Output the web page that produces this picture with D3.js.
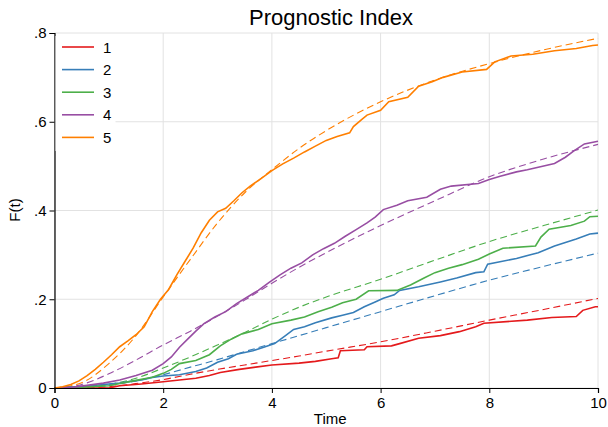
<!DOCTYPE html>
<html><head><meta charset="utf-8">
<script src="https://cdn.jsdelivr.net/npm/d3@7"></script>
<style>
html,body{margin:0;padding:0;background:#fff;}
text{font-family:"Liberation Sans",Arial,sans-serif;fill:#000;}
</style></head>
<body><svg id="c" width="608" height="427"></svg>
<script>
const groups = ["1","2","3","4","5"];
const colors = ["#e41a1c","#377eb8","#4daf4a","#984ea3","#ff7f00"];
const xTicks = [0,2,4,6,8,10];
const yTicks = [0,0.2,0.4,0.6,0.8];
const yTickLabels = ["0",".2",".4",".6",".8"];

// Kaplan-Meier curves [time, F(t)]
const km1 = [[0,0],[1.0,0],[1.2,0.005],[1.6,0.009],[2.0,0.014],[2.3,0.018],[2.6,0.022],[2.85,0.028],[3.05,0.035],[3.4,0.042],[3.7,0.047],[4.0,0.052],[4.5,0.056],[4.8,0.060],[5.1,0.066],[5.22,0.068],[5.26,0.084],[5.7,0.086],[5.75,0.093],[6.2,0.095],[6.35,0.100],[6.7,0.112],[7.1,0.118],[7.45,0.127],[7.75,0.138],[7.9,0.146],[8.7,0.153],[9.15,0.159],[9.6,0.161],[9.72,0.175],[9.95,0.183],[10,0.183]];
const km2 = [[0,0],[0.3,0.002],[0.6,0.004],[0.9,0.008],[1.2,0.011],[1.4,0.015],[1.6,0.018],[1.8,0.024],[2.0,0.027],[2.3,0.030],[2.6,0.037],[2.8,0.045],[3.0,0.058],[3.2,0.066],[3.35,0.076],[3.65,0.084],[3.85,0.092],[4.05,0.100],[4.25,0.118],[4.4,0.132],[4.6,0.138],[4.8,0.147],[5.1,0.158],[5.3,0.164],[5.5,0.170],[5.7,0.183],[5.9,0.194],[6.05,0.202],[6.25,0.210],[6.35,0.220],[6.7,0.228],[7.1,0.239],[7.4,0.248],[7.75,0.260],[7.9,0.262],[7.97,0.279],[8.5,0.292],[8.9,0.305],[9.2,0.320],[9.6,0.336],[9.85,0.347],[10,0.349]];
const km3 = [[0,0],[0.5,0.002],[1.0,0.005],[1.2,0.010],[1.45,0.016],[1.8,0.024],[2.0,0.033],[2.15,0.042],[2.3,0.055],[2.6,0.062],[2.85,0.075],[3.05,0.095],[3.25,0.110],[3.45,0.122],[3.75,0.132],[4.0,0.145],[4.35,0.153],[4.6,0.160],[4.85,0.172],[5.1,0.182],[5.3,0.192],[5.55,0.200],[5.78,0.219],[6.3,0.220],[6.55,0.232],[6.8,0.248],[7.0,0.260],[7.25,0.270],[7.5,0.278],[7.8,0.290],[8.0,0.302],[8.25,0.315],[8.85,0.320],[8.95,0.340],[9.1,0.358],[9.5,0.366],[9.75,0.376],[9.85,0.386],[10,0.387]];
const km4 = [[0,0],[0.35,0.002],[0.6,0.006],[0.9,0.011],[1.2,0.018],[1.5,0.028],[1.8,0.040],[2.0,0.055],[2.15,0.070],[2.3,0.092],[2.45,0.110],[2.6,0.128],[2.75,0.145],[2.95,0.160],[3.15,0.172],[3.35,0.190],[3.55,0.205],[3.75,0.220],[3.95,0.238],[4.15,0.255],[4.35,0.270],[4.55,0.282],[4.75,0.300],[4.95,0.314],[5.15,0.326],[5.35,0.342],[5.55,0.357],[5.75,0.372],[5.9,0.385],[6.05,0.402],[6.3,0.412],[6.5,0.422],[6.85,0.430],[7.1,0.448],[7.3,0.455],[7.8,0.461],[8.0,0.470],[8.2,0.477],[8.5,0.487],[8.7,0.492],[9.2,0.506],[9.4,0.520],[9.55,0.534],[9.75,0.550],[10,0.556]];
const km5 = [[0,0],[0.15,0.003],[0.3,0.008],[0.45,0.016],[0.6,0.028],[0.75,0.042],[0.9,0.058],[1.05,0.075],[1.2,0.093],[1.35,0.106],[1.5,0.120],[1.65,0.138],[1.8,0.172],[1.95,0.200],[2.1,0.222],[2.25,0.255],[2.4,0.285],[2.55,0.315],[2.7,0.350],[2.85,0.378],[3.0,0.397],[3.15,0.405],[3.3,0.422],[3.45,0.440],[3.6,0.455],[3.8,0.472],[4.0,0.490],[4.2,0.505],[4.4,0.518],[4.6,0.532],[4.8,0.545],[5.0,0.558],[5.2,0.567],[5.43,0.575],[5.5,0.589],[5.65,0.605],[5.75,0.615],[6.0,0.626],[6.15,0.645],[6.5,0.655],[6.7,0.680],[6.95,0.690],[7.15,0.700],[7.5,0.712],[7.95,0.718],[8.1,0.735],[8.4,0.748],[8.8,0.752],[9.2,0.760],[9.6,0.765],[9.9,0.772],[10,0.773]];

// fitted (parametric) curves
const fitTimes = [0,0.5,1,1.5,2,2.5,3,3.5,4,4.5,5,6,7,8,9,10];
const fit1 = [0,0,0.003,0.010,0.019,0.031,0.042,0.052,0.062,0.072,0.083,0.104,0.128,0.153,0.177,0.202];
const fit2 = [0,0.001,0.006,0.016,0.030,0.047,0.064,0.082,0.100,0.118,0.136,0.172,0.208,0.243,0.274,0.304];
const fit3 = [0,0.001,0.008,0.022,0.045,0.070,0.097,0.125,0.155,0.182,0.205,0.245,0.288,0.330,0.366,0.401];
const fit4 = [0,0.008,0.032,0.063,0.097,0.128,0.162,0.198,0.236,0.272,0.305,0.366,0.422,0.476,0.516,0.549];
const fit5 = [0,0.012,0.055,0.118,0.205,0.290,0.372,0.440,0.492,0.540,0.580,0.645,0.694,0.731,0.762,0.788];

const kms = [km1,km2,km3,km4,km5];
const fits = [fit1,fit2,fit3,fit4,fit5];

const svg = d3.select("#c");
const L=54.5, R=598, T=33, B=388;
const x = d3.scaleLinear().domain([0,10]).range([L,R]);
const y = d3.scaleLinear().domain([0,0.8]).range([B,T]);

// grid
const g = svg.append("g");
g.selectAll(".gx").data(xTicks).join("line")
  .attr("x1",d=>x(d)).attr("x2",d=>x(d)).attr("y1",T).attr("y2",B)
  .attr("stroke","#e2e2e2").attr("stroke-width",1);
g.selectAll(".gy").data(yTicks).join("line")
  .attr("x1",L).attr("x2",R).attr("y1",d=>y(d)).attr("y2",d=>y(d))
  .attr("stroke","#e2e2e2").attr("stroke-width",1);

svg.append("clipPath").attr("id","pc").append("rect")
  .attr("x",L).attr("y",T-10).attr("width",R-L+2).attr("height",B-T+10);

const plot = svg.append("g").attr("clip-path","url(#pc)");
const fitLine = d3.line().x(d=>x(d[0])).y(d=>y(d[1])).curve(d3.curveMonotoneX);
const kmLine = d3.line().x(d=>x(d[0])).y(d=>y(d[1])).curve(d3.curveLinear);

fits.forEach((f,i)=>{
  plot.append("path").datum(fitTimes.map((t,j)=>[t,f[j]]))
    .attr("d",fitLine).attr("fill","none").attr("stroke",colors[i])
    .attr("stroke-width",1.1).attr("stroke-dasharray","7,4");
});
kms.forEach((k,i)=>{
  plot.append("path").datum(k)
    .attr("d",kmLine).attr("fill","none").attr("stroke",colors[i])
    .attr("stroke-width",1.6).attr("stroke-linejoin","miter");
});

// axes
const xAxis = d3.axisBottom(x).tickValues(xTicks).tickSize(5).tickPadding(4).tickFormat(d3.format("d"));
const yAxis = d3.axisLeft(y).tickValues(yTicks).tickSize(5).tickPadding(3).tickFormat((d,i)=>yTickLabels[i]);
const ax = svg.append("g").attr("transform",`translate(0,${B})`).call(xAxis);
const ay = svg.append("g").attr("transform",`translate(${L},0)`).call(yAxis);
[ax,ay].forEach(a=>{
  a.select(".domain").attr("stroke","#000").attr("stroke-width",1.2);
  a.selectAll(".tick line").attr("stroke","#000");
  a.selectAll(".tick text").attr("font-size",15).attr("font-family","Liberation Sans, Arial, sans-serif").attr("fill","#000");
});

// legend
const lg = svg.append("g");
lg.append("rect").attr("x",L+1).attr("y",T+3).attr("width",60).attr("height",115).attr("fill","#fff");
groups.forEach((gname,i)=>{
  const yy = 47 + i*22.6;
  lg.append("line").attr("x1",62).attr("x2",94).attr("y1",yy).attr("y2",yy)
    .attr("stroke",colors[i]).attr("stroke-width",1.6);
  lg.append("text").attr("x",103).attr("y",yy+5.5).attr("font-size",15).text(gname);
});

// titles
svg.append("text").attr("x",331).attr("y",25).attr("text-anchor","middle")
  .attr("font-size",22).text("Prognostic Index");
svg.append("text").attr("x",(L+R)/2+4).attr("y",424).attr("text-anchor","middle")
  .attr("font-size",15).text("Time");
svg.append("text").attr("transform","translate(20,210) rotate(-90)").attr("text-anchor","middle")
  .attr("font-size",15).text("F(t)");
</script></body></html>
